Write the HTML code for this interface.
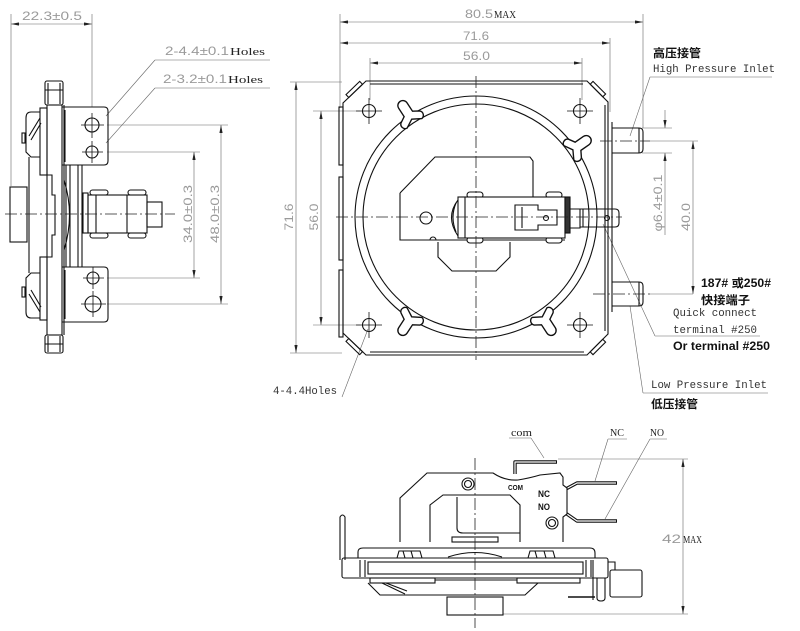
<!DOCTYPE html>
<html><head><meta charset="utf-8"><style>
html,body{margin:0;padding:0;background:#fff}
svg{display:block}
.o{fill:none;stroke:#111;stroke-width:1.1}
.f{fill:#fff;stroke:#111;stroke-width:1.1}
.t{fill:none;stroke:#666;stroke-width:0.6}
.k{fill:none;stroke:#111;stroke-width:0.8}
.c{fill:none;stroke:#222;stroke-width:0.8;stroke-dasharray:12 3 2 3}
.g{font-family:"Liberation Sans",sans-serif;fill:#9a9a9a;font-size:12px}
.m{font-family:"Liberation Mono",monospace;fill:#333;font-size:10.7px}
.s{font-family:"Liberation Serif",serif;fill:#222;font-size:11px}
.b{font-family:"Liberation Sans","Noto Sans CJK SC",sans-serif;font-weight:bold;fill:#111;font-size:11.5px}
</style></head><body>
<svg width="800" height="631" viewBox="0 0 800 631" xmlns="http://www.w3.org/2000/svg">
<defs>
<marker id="ar" viewBox="0 0 10 4" refX="10" refY="2" markerWidth="9" markerHeight="3.2" markerUnits="userSpaceOnUse" orient="auto-start-reverse"><path d="M0 0 L10 2 L0 4 Z" fill="#222"/></marker>
<path id="lug" d="M-4 9 L-4 1 L-9 -2 A3.5 3.5 0 0 1 -7 -8 L0 -4 L7 -8 A3.5 3.5 0 0 1 9 -2 L4 1 L4 9 A4 4 0 0 1 -4 9 Z"/>
</defs>

<!-- ================= LEFT VIEW ================= -->
<g class="t">
<line x1="11" y1="14" x2="11" y2="186"/>
<line x1="92" y1="14" x2="92" y2="107"/>
<line x1="11" y1="24" x2="92" y2="24" marker-start="url(#ar)" marker-end="url(#ar)"/>
<line x1="107" y1="125" x2="228" y2="125"/>
<line x1="107" y1="152" x2="200" y2="152"/>
<line x1="107" y1="278" x2="200" y2="278"/>
<line x1="107" y1="304" x2="228" y2="304"/>
<line x1="194" y1="152" x2="194" y2="278" marker-start="url(#ar)" marker-end="url(#ar)"/>
<line x1="221" y1="125" x2="221" y2="304" marker-start="url(#ar)" marker-end="url(#ar)"/>
<line x1="155" y1="60" x2="270" y2="60"/>
<line x1="155" y1="88" x2="270" y2="88"/>
<line x1="155" y1="60" x2="106" y2="116"/>
<line x1="155" y1="88" x2="106" y2="143"/>
</g>
<text class="g" x="22" y="20" textLength="60" lengthAdjust="spacingAndGlyphs">22.3±0.5</text>
<text class="g" x="165" y="55" textLength="64" lengthAdjust="spacingAndGlyphs">2-4.4±0.1</text>
<text class="s" x="230" y="55" textLength="35" lengthAdjust="spacingAndGlyphs">Holes</text>
<text class="g" x="163" y="83" textLength="64" lengthAdjust="spacingAndGlyphs">2-3.2±0.1</text>
<text class="s" x="228" y="83" textLength="35" lengthAdjust="spacingAndGlyphs">Holes</text>
<text class="g" transform="translate(192,214) rotate(-90)" text-anchor="middle" textLength="58" lengthAdjust="spacingAndGlyphs">34.0±0.3</text>
<text class="g" transform="translate(219,214) rotate(-90)" text-anchor="middle" textLength="58" lengthAdjust="spacingAndGlyphs">48.0±0.3</text>

<g class="o">
<rect x="45" y="81" width="18" height="24" rx="2"/>
<line x1="48" y1="83" x2="48" y2="104"/><line x1="60" y1="83" x2="60" y2="104"/>
<line x1="45" y1="90" x2="63" y2="90"/>
<rect x="45" y="335" width="18" height="18" rx="2"/>
<line x1="48" y1="336" x2="48" y2="352"/><line x1="60" y1="336" x2="60" y2="352"/>
<line x1="45" y1="344" x2="63" y2="344"/>
<rect x="47" y="105" width="15" height="230"/>
<rect x="40" y="108" width="7" height="67"/>
<rect x="40" y="257" width="7" height="63"/>
<line x1="64" y1="105" x2="64" y2="335"/>
<line x1="66" y1="165" x2="66" y2="267"/>
<path d="M47 175 L52 175 L52 195 L55 195 L55 235 L52 235 L52 257 L47 257"/>
<path d="M64 180 Q75 215 64 250"/>
<path d="M40 112 L31 112 Q26 112 26 118 L26 152 L31 157 L40 157"/>
<path d="M29 136 L40 118 M31 140 L41 123"/>
<rect x="22" y="133" width="3" height="10"/>
<path d="M40 273 L31 273 L26 278 L26 312 Q26 318 31 318 L40 318"/>
<path d="M29 294 L40 312 M31 290 L41 307"/>
<rect x="22" y="287" width="3" height="10"/>
<line x1="29" y1="157" x2="29" y2="273"/>
<rect x="10" y="187" width="17" height="55"/>
<path d="M62 107 L104 107 Q108 107 108 111 L108 161 Q108 165 104 165 L62 165"/>
<line x1="65" y1="110" x2="65" y2="162"/>
<path d="M62 267 L104 267 Q108 267 108 271 L108 318 Q108 322 104 322 L62 322"/>
<line x1="65" y1="270" x2="65" y2="319"/>
<line x1="78" y1="165" x2="78" y2="267"/><line x1="82" y1="165" x2="82" y2="267"/>
<line x1="70" y1="165" x2="70" y2="267"/>
<rect x="83" y="193" width="5" height="40"/>
<rect x="88" y="195" width="59" height="38"/>
<line x1="96" y1="195" x2="96" y2="233"/>
<line x1="127" y1="195" x2="127" y2="233"/>
<rect x="90" y="190" width="18" height="5" rx="2.5"/>
<rect x="128" y="190" width="18" height="5" rx="2.5"/>
<rect x="90" y="233" width="18" height="5" rx="2.5"/>
<rect x="128" y="233" width="18" height="5" rx="2.5"/>
<rect x="147" y="202" width="15" height="25"/>
<circle cx="92" cy="125" r="7"/>
<circle cx="92" cy="152" r="6"/>
<circle cx="93" cy="278" r="6"/>
<circle cx="93" cy="304" r="8"/>
</g>
<g class="k">
<path d="M81 125 H104 M92 113 V138 M82 152 H103 M92 141 V163 M83 278 H104 M93 267 V289 M81 304 H106 M93 291 V317"/>
</g>
<path class="c" d="M5 214 H175"/>

<!-- ================= MAIN VIEW ================= -->
<g class="t">
<line x1="340" y1="14" x2="340" y2="108"/>
<line x1="643" y1="14" x2="643" y2="128"/>
<line x1="610" y1="38" x2="610" y2="112"/>
<line x1="370" y1="58" x2="370" y2="100"/>
<line x1="582" y1="58" x2="582" y2="100"/>
<line x1="340" y1="22" x2="643" y2="22" marker-start="url(#ar)" marker-end="url(#ar)"/>
<line x1="340" y1="43" x2="610" y2="43" marker-start="url(#ar)" marker-end="url(#ar)"/>
<line x1="370" y1="63" x2="582" y2="63" marker-start="url(#ar)" marker-end="url(#ar)"/>
<line x1="290" y1="82" x2="342" y2="82"/>
<line x1="290" y1="353" x2="342" y2="353"/>
<line x1="313" y1="111" x2="360" y2="111"/>
<line x1="313" y1="325" x2="360" y2="325"/>
<line x1="296" y1="82" x2="296" y2="353" marker-start="url(#ar)" marker-end="url(#ar)"/>
<line x1="321" y1="111" x2="321" y2="325" marker-start="url(#ar)" marker-end="url(#ar)"/>
<line x1="642" y1="128" x2="672" y2="128"/>
<line x1="642" y1="153" x2="672" y2="153"/>
<line x1="650" y1="141" x2="698" y2="141"/>
<line x1="665" y1="110" x2="665" y2="128" marker-end="url(#ar)"/>
<line x1="665" y1="235" x2="665" y2="153" marker-end="url(#ar)"/>
<line x1="693" y1="141" x2="693" y2="294" marker-start="url(#ar)" marker-end="url(#ar)"/>
<line x1="650" y1="294" x2="693" y2="294"/>
<line x1="650" y1="77" x2="772" y2="77"/>
<line x1="650" y1="77" x2="630" y2="136"/>
<line x1="655" y1="336" x2="760" y2="336"/>
<line x1="655" y1="336" x2="603" y2="224"/>
<line x1="643" y1="393" x2="768" y2="393"/>
<line x1="643" y1="393" x2="630" y2="306"/>
<line x1="342" y1="397" x2="368" y2="329"/>
</g>
<text class="g" x="465" y="18" textLength="28" lengthAdjust="spacingAndGlyphs">80.5</text>
<text class="s" x="494" y="18" textLength="22" lengthAdjust="spacingAndGlyphs">MAX</text>
<text class="g" x="463" y="40" textLength="26" lengthAdjust="spacingAndGlyphs">71.6</text>
<text class="g" x="463" y="60" textLength="27" lengthAdjust="spacingAndGlyphs">56.0</text>
<text class="g" transform="translate(293,217) rotate(-90)" text-anchor="middle" textLength="27" lengthAdjust="spacingAndGlyphs">71.6</text>
<text class="g" transform="translate(318,217) rotate(-90)" text-anchor="middle" textLength="27" lengthAdjust="spacingAndGlyphs">56.0</text>
<text class="g" transform="translate(662,203) rotate(-90)" text-anchor="middle" textLength="57" lengthAdjust="spacingAndGlyphs">φ6.4±0.1</text>
<text class="g" transform="translate(690,217) rotate(-90)" text-anchor="middle" textLength="28" lengthAdjust="spacingAndGlyphs">40.0</text>

<text class="b" x="653" y="57" textLength="48" lengthAdjust="spacingAndGlyphs">高压接管</text>
<text class="m" x="653" y="72" textLength="122" lengthAdjust="spacingAndGlyphs">High Pressure Inlet</text>
<text class="b" x="701" y="287" textLength="70" lengthAdjust="spacingAndGlyphs">187# 或250#</text>
<text class="b" x="701" y="304" textLength="49" lengthAdjust="spacingAndGlyphs">快接端子</text>
<text class="m" x="673" y="316" textLength="84" lengthAdjust="spacingAndGlyphs">Quick connect</text>
<text class="m" x="673" y="333" textLength="84" lengthAdjust="spacingAndGlyphs">terminal #250</text>
<text class="b" x="673" y="350" textLength="97" lengthAdjust="spacingAndGlyphs">Or terminal #250</text>
<text class="m" x="651" y="388" textLength="116" lengthAdjust="spacingAndGlyphs">Low Pressure Inlet</text>
<text class="b" x="651" y="408" textLength="47" lengthAdjust="spacingAndGlyphs">低压接管</text>
<text class="m" x="273" y="394" textLength="64" lengthAdjust="spacingAndGlyphs">4-4.4Holes</text>

<g class="o">
<path d="M366 81 L587 81 L608 102 L608 334 L587 355 L366 355 L343 333 L343 103 Z"/>
<line x1="370" y1="84" x2="583" y2="84"/>
<line x1="370" y1="352" x2="584" y2="352"/>
<line x1="605" y1="105" x2="605" y2="331"/>
<line x1="612" y1="122" x2="612" y2="312"/>
<polygon points="348.75,97.5 362.5,84.3 359.7,81.4 346,94.6"/>
<polygon points="590.2,84.2 602.8,96.8 605.6,94 593,81.4"/>
<polygon points="602.75,339.25 590.2,351.9 593,354.7 605.6,342.1"/>
<polygon points="362.5,351.7 348.75,338.5 346,341.4 359.7,354.6"/>
<rect x="339" y="107" width="4" height="58"/>
<rect x="339" y="177" width="4" height="83"/>
<rect x="339" y="270" width="4" height="67"/>
<circle cx="476" cy="217" r="121"/>
<circle cx="476" cy="217" r="113"/>
</g>
<g class="f">
<use href="#lug" transform="translate(409,115) rotate(147) scale(1.25)"/>
<use href="#lug" transform="translate(577,147) rotate(235) scale(1.25)"/>
<use href="#lug" transform="translate(409,321) rotate(33) scale(1.25)"/>
<use href="#lug" transform="translate(545,321) rotate(327) scale(1.25)"/>
</g>
<g class="o">
<circle cx="369" cy="111" r="6.5"/><circle cx="580" cy="111" r="6.5"/>
<circle cx="369" cy="325" r="6.5"/><circle cx="580" cy="325" r="6.5"/>
</g>
<g class="k">
<path d="M356 111 H382 M369 98 V124 M567 111 H593 M580 98 V124 M356 325 H382 M369 312 V338 M567 325 H593 M580 312 V338"/>
</g>
<g class="o">
<path d="M400 193 L435 157 L530 157 L533 161 L533 197"/>
<path d="M400 193 L400 240 L565 240"/>
<path d="M438 242 L438 257 L452 271 L496 271 L510 257 L510 242"/>
<circle cx="426" cy="218" r="6"/>
<path d="M430 240 A3 3 0 0 1 436 240"/>
<rect x="467" y="192" width="16" height="6" rx="3" class="f"/>
<rect x="546" y="192" width="16" height="6" rx="3" class="f"/>
<rect x="467" y="237" width="16" height="6" rx="3" class="f"/>
<rect x="546" y="237" width="16" height="6" rx="3" class="f"/>
<rect x="458" y="197" width="107" height="41" class="f"/>
<path d="M458 200 Q445 217 458 236"/>
<path d="M456 203 Q450 217 456 232"/>
<line x1="465" y1="197" x2="465" y2="238"/>
<path d="M515 205 L538 205 L538 210 L557 210 L557 225 L538 225 L538 230 L515 230 Z"/>
<line x1="522" y1="207" x2="522" y2="228"/>
<circle cx="546" cy="218" r="2.5"/>
<rect x="565" y="197" width="5" height="36" fill="#333"/>
<path d="M570 209 L580 209 L580 228 L570 228"/>
<path d="M580 209 L615 209 Q619 209 619 213 L619 223 Q619 227 615 227 L580 227"/>
<line x1="583" y1="209" x2="583" y2="227"/>
<circle cx="607" cy="218" r="2.5"/>
<path d="M612 128 L639 128 Q643 128 643 132 L643 149 Q643 153 639 153 L612 153"/>
<line x1="639" y1="128" x2="639" y2="153"/>
<path d="M612 282 L639 282 Q643 282 643 286 L643 302 Q643 306 639 306 L612 306"/>
<line x1="639" y1="282" x2="639" y2="306"/>
</g>
<path class="c" d="M336 217 H622"/>
<path class="c" d="M476 76 V360"/>
<path class="c" d="M600 141 H650"/>
<path class="c" d="M593 294 H650"/>

<!-- ================= BOTTOM VIEW ================= -->
<g class="t">
<line x1="558" y1="459" x2="688" y2="459"/>
<line x1="503" y1="614" x2="688" y2="614"/>
<line x1="683" y1="459" x2="683" y2="614" marker-start="url(#ar)" marker-end="url(#ar)"/>
<line x1="509" y1="438" x2="531" y2="438"/>
<line x1="531" y1="438" x2="544" y2="458"/>
<line x1="608" y1="439" x2="627" y2="439"/>
<line x1="608" y1="439" x2="595" y2="481"/>
<line x1="650" y1="439" x2="667" y2="439"/>
<line x1="650" y1="439" x2="605" y2="519"/>
</g>
<text class="s" x="511" y="436" textLength="21" lengthAdjust="spacingAndGlyphs">com</text>
<text class="s" x="610" y="436" textLength="14" lengthAdjust="spacingAndGlyphs">NC</text>
<text class="s" x="650" y="436" textLength="14" lengthAdjust="spacingAndGlyphs">NO</text>
<text class="g" x="662" y="543" textLength="19" lengthAdjust="spacingAndGlyphs">42</text>
<text class="s" x="683" y="543" textLength="19" lengthAdjust="spacingAndGlyphs">MAX</text>

<g fill="none" stroke="#111" stroke-width="3.4" stroke-linejoin="round">
<path d="M515 474 L515 462 L557 462"/>
<path d="M564 490 L577 483 L617 483"/>
<path d="M564 512 L577 521 L617 521"/>
</g>
<g fill="none" stroke="#fff" stroke-width="1.2" stroke-linejoin="round">
<path d="M515 474 L515 462 L556 462"/>
<path d="M564 490 L577 483 L616 483"/>
<path d="M564 512 L577 521 L616 521"/>
</g>
<g class="o">
<path d="M400 542 L400 498 L427 473 L493 473 Q505 481 518 480 Q530 478 540 475 L560 473 L563 477 L563 485 L567 488 L567 514 L563 517 L563 542" class="f"/>
<path d="M430 542 L430 505 L443 495 L510 495 L520 505 L520 542"/>
<path d="M457 497 L457 528 Q457 533 463 533 L520 533"/>
<circle cx="468" cy="484" r="6"/><circle cx="468" cy="484" r="3.5"/>
<circle cx="552" cy="523" r="6"/><circle cx="552" cy="523" r="3.5"/>
<rect x="452" y="537" width="46" height="5"/>
<path d="M358 558 L358 552 Q358 548 363 548 L590 548 Q595 548 595 553 L595 558"/>
<path d="M448 557 Q475 548 502 557"/>
<path d="M397 558 L399 551 L420 551 L422 558 M403 551 L405 558 M411 551 L413 558"/>
<path d="M528 558 L530 551 L553 551 L555 558 M535 551 L537 558 M544 551 L546 558"/>
<rect x="342" y="558" width="266" height="20" rx="2"/>
<rect x="368" y="562" width="215" height="12"/>
<line x1="360" y1="560" x2="360" y2="577"/><line x1="365" y1="560" x2="365" y2="577"/>
<line x1="586" y1="560" x2="586" y2="577"/><line x1="591" y1="560" x2="591" y2="577"/>
<path d="M608 562 L615 562 L615 570"/>
<rect x="370" y="578" width="65" height="5"/>
<rect x="517" y="578" width="63" height="5"/>
<line x1="435" y1="580" x2="517" y2="580"/>
<path d="M368 583 L380 595 L525 595 L538 583"/>
<path d="M382 583 L405 594 M386 583 L407 591"/>
<rect x="447" y="597" width="56" height="18"/>
<path d="M597 578 L597 598 Q597 601 601 601 Q605 601 605 598 L605 578"/>
<rect x="610" y="570" width="32" height="27" rx="2"/>
<line x1="593" y1="560" x2="593" y2="600"/>
<path d="M340 560 L340 517 Q342.5 513 345 517 L345 560"/>
</g>
<line x1="568" y1="597" x2="595" y2="597" stroke="#111" stroke-width="1.6"/>
<text x="508" y="490" font-family="Liberation Sans,sans-serif" font-weight="bold" font-size="7" fill="#111" textLength="15" lengthAdjust="spacingAndGlyphs">COM</text>
<text x="538" y="497" font-family="Liberation Sans,sans-serif" font-weight="bold" font-size="9" fill="#111" textLength="12" lengthAdjust="spacingAndGlyphs">NC</text>
<text x="538" y="510" font-family="Liberation Sans,sans-serif" font-weight="bold" font-size="9" fill="#111" textLength="12" lengthAdjust="spacingAndGlyphs">NO</text>
<path class="c" d="M475 458 V628"/>
</svg>
</body></html>
